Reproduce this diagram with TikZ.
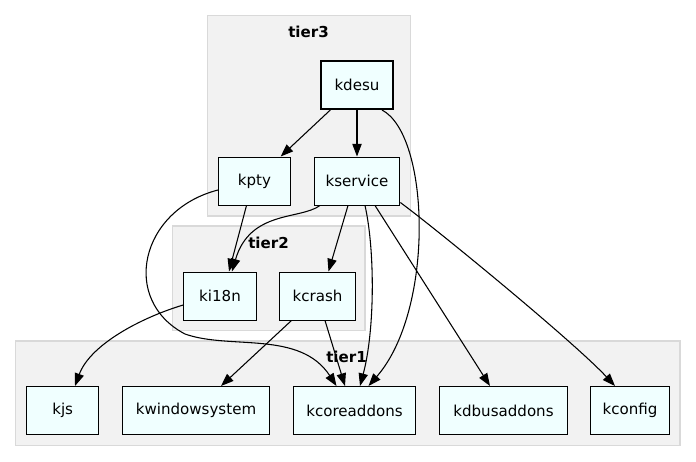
\documentclass[tikz,border=0pt]{standalone}
\usepackage{fontspec}
\setmainfont{DejaVu Sans}
\usepackage{xcolor}
\usepackage{tikz}
\usetikzlibrary{calc,arrows.meta}

\definecolor{tierfill}{HTML}{F2F2F2}
\definecolor{tierline}{HTML}{D9D9D9}
\definecolor{pkgfill}{HTML}{F0FFFF}

\begin{document}
\begin{tikzpicture}[
		x=0.75pt, y=-0.75pt,
		tierbox/.style={
			draw=tierline,
			fill=tierfill,
			line width=0.8pt
		},
		tierlabel/.style={
			font=\fontsize{11.3}{13}\selectfont\bfseries,
			inner sep=0pt
		},
		pkgbox/.style={
			draw,
			fill=pkgfill,
			line width=0.75pt,
			minimum height=36pt,
			inner sep=0pt,
			font=\fontsize{11.3}{13}\selectfont
		},
		dep/.style={-{Triangle[length=9.5pt, width=7pt]}, line width=0.8pt}
	]
		\useasboundingbox (0,0) rectangle (696,461);

		% clusters
		\draw[tierbox] (207.5,15.5) rectangle (410.5,216);
		\draw[tierbox] (172.5,226) rectangle (365,330.5);
		\draw[tierbox] (15.5,341) rectangle (680,445.5);
		\node[tierlabel] (tier3) at (308.5,32) {tier3};
		\node[tierlabel] (tier2) at (268.5,243) {tier2};
		\node[tierlabel] (tier1) at (346.5,357) {tier1};

		% tier3
		\node[pkgbox, minimum width=53.5pt, line width=1.5pt] (kdesu) at (357,85) {kdesu};
		\node[pkgbox, minimum width=54pt] (kpty) at (254.5,181) {kpty};
		\node[pkgbox, minimum width=64.3pt] (kservice) at (357,181) {kservice};

		% tier2
		\node[pkgbox, minimum width=54.5pt] (ki18n) at (220,296) {ki18n};
		\node[pkgbox, minimum width=56.8pt] (kcrash) at (317.5,296) {kcrash};

		% tier1
		\node[pkgbox, minimum width=54pt] (kjs) at (62.7,410.5) {kjs};
		\node[pkgbox, minimum width=110pt] (kwindowsystem) at (196,410.5) {kwindowsystem};
		\node[pkgbox, minimum width=91.8pt] (kcoreaddons) at (354.5,410.5) {kcoreaddons};
		\node[pkgbox, minimum width=96.3pt] (kdbusaddons) at (503.5,410.5) {kdbusaddons};
		\node[pkgbox, minimum width=58.7pt] (kconfig) at (630,410.5) {kconfig};

		% dependencies
		\draw[dep] (kdesu) -- (kpty);
		\draw[dep] (kdesu) -- (kservice);
		\draw[dep] ($(kdesu.south)+(25,0)$) .. controls (430,135) and (435,310) .. ($(kcoreaddons.north)+(14,0)$);
		\draw[dep] ($(kpty.west)+(0,9)$) .. controls (140,210) and (120,300) .. (185,334)
			.. controls (230,350) and (300,330) .. ($(kcoreaddons.north)+(-18,0)$);
		\draw[dep] ($(kpty.south)+(-8,0)$) -- ($(ki18n.north)+(9,0)$);
		\draw[dep] ($(kservice.south)+(-37,0)$) .. controls (300,220) and (250,210) .. ($(ki18n.north)+(12,0)$);
		\draw[dep] ($(kservice.south)+(-9,0)$) -- ($(kcrash.north)+(11,0)$);
		\draw[dep] ($(kservice.south)+(8,0)$) .. controls (375,250) and (375,330) .. ($(kcoreaddons.north)+(5.5,0)$);
		\draw[dep] ($(kservice.south)+(18,0)$) -- ($(kdbusaddons.north)+(-13.5,0)$);
		\draw[dep] ($(kservice.south east)+(0,-3)$) .. controls (440,232) and (574,342) .. ($(kconfig.north)+(-15,0)$);
		\draw[dep] ($(kcrash.south)+(-26,0)$) -- ($(kwindowsystem.north)+(25,0)$);
		\draw[dep] ($(kcrash.south)+(7.5,0)$) -- ($(kcoreaddons.north)+(-9.5,0)$);
		\draw[dep] ($(ki18n.west)+(0,9)$) .. controls (140,318) and (90,345) .. ($(kjs.north)+(12.3,0)$);
	\end{tikzpicture}
\end{document}
